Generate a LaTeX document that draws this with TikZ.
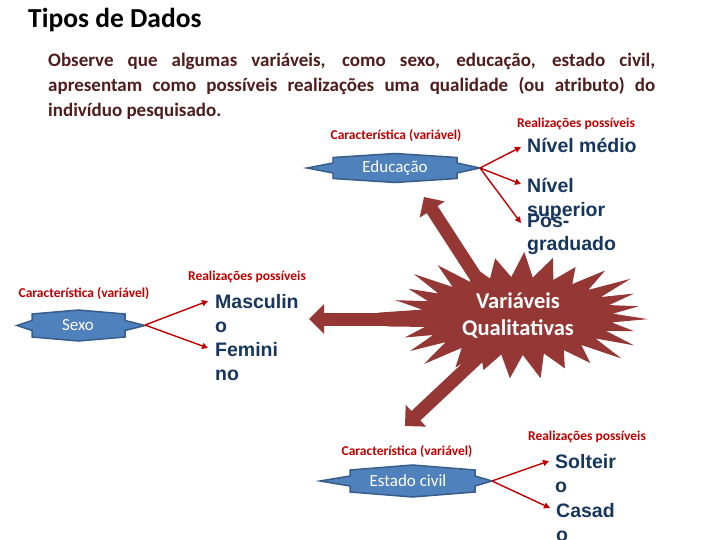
\documentclass[tikz,border=0pt]{standalone}
\usepackage{fontspec}
\setmainfont{Carlito}
\newfontfamily\arialf{Liberation Sans}
\usetikzlibrary{arrows.meta}
\definecolor{parcol}{HTML}{501C1C}
\definecolor{labred}{HTML}{C00000}
\definecolor{navy}{HTML}{17365D}
\definecolor{vqred}{HTML}{953735}
\definecolor{bfill}{HTML}{4F81BD}
\definecolor{bdraw}{HTML}{385D8A}
\tikzset{
  shapestyle/.style={fill=bfill, draw=bdraw, line width=1.5pt, line join=miter},
  vartext/.style={text=white, font=\fontsize{17}{20}\selectfont, inner sep=0pt},
  lab/.style={text=labred, font=\fontsize{13.5}{16}\selectfont\bfseries, inner sep=0pt, anchor=base},
  real/.style={text=navy, font=\arialf\bfseries\fontsize{19.5}{24}\selectfont, align=left, inner sep=0pt, anchor=base west},
  redarrow/.style={draw=labred, line width=1.4pt, -{Triangle[length=6pt,width=6pt]}},
  bigarrow/.style={draw=vqred, line width=13pt, -{Triangle[length=15pt,width=29pt]}},
}
\newcommand\varshape[7]{%
  \filldraw[shapestyle] (#1,#5) -- (#2,#5-5) -- (#2,#5-#6) -- ({(#2+#3)/2},#5-#6-#7) -- (#3,#5-#6) -- (#3,#5-5) -- (#4,#5)
    -- (#3,#5+5) -- (#3,#5+#6) -- ({(#2+#3)/2},#5+#6+#7) -- (#2,#5+#6) -- (#2,#5+5) -- cycle;}
\begin{document}
\begin{tikzpicture}[x=1pt,y=-1pt]
\useasboundingbox (0,0) rectangle (720,540);
\fill[white] (0,0) rectangle (720,540);

% title and paragraph
\node[anchor=base west, inner sep=0pt, font=\fontsize{27.5}{30}\selectfont\bfseries] (title) at (28,27.5) {Tipos de Dados};
\node[anchor=base west, inner sep=0pt, text width=607pt, align=justify, text=parcol,
      font=\fontsize{19}{25}\selectfont\bfseries] (intro) at (48,67)
  {Observe que algumas variáveis, como sexo, educação, estado civil,\linebreak apresentam como possíveis realizações uma qualidade (ou atributo) do\linebreak indivíduo pesquisado.};

% big arrows
\coordinate (a1s) at (483,288);
\coordinate (a1t) at (424,197);
\coordinate (a2s) at (430,319);
\coordinate (a2t) at (309,319);
\coordinate (a3s) at (488,348);
\coordinate (a3t) at (405,426);
\draw[bigarrow] (a1s) -- (a1t);
\draw[bigarrow] (a2s) -- (a2t);
\draw[bigarrow] (a3s) -- (a3t);

% starburst
\fill[vqred] plot[variable=\i, samples at={0,...,55}]
  ({517+(131*(1-mod(\i,2))+96*mod(\i,2))*(1+0.07*sin(\i*131)*(1-mod(\i,2)))*cos(\i*6.428571+3)},
   {316+(60*(1-mod(\i,2))+39*mod(\i,2))*(1+0.07*sin(\i*131)*(1-mod(\i,2)))*sin(\i*6.428571+3)}) -- cycle;
\node[text=white, font=\fontsize{22.5}{27}\selectfont\bfseries, align=center, inner sep=0pt, anchor=base] (vq) at (518,335)
  {Variáveis\\Qualitativas};

% Educação
\varshape{307}{333}{457}{480}{168}{10.5}{4}
\node[vartext] (educ) at (395,168) {Educação};
\coordinate (educR) at (480,168);
\node[lab] (educlab) at (396,140) {Característica (variável)};
\node[lab] (educreal) at (576,127.5) {Realizações possíveis};
\node[real] (nm) at (527,153) {Nível médio};
\node[real] (ns) at (527,216) {Nível\\superior};
\node[real] (pg) at (527,251) {Pós-\\graduado};
\coordinate (nmE) at (521,147);
\coordinate (nsE) at (521,184);
\coordinate (pgE) at (521,223);
\draw[redarrow] (educR) -- (nmE);
\draw[redarrow] (educR) -- (nsE);
\draw[redarrow] (educR) -- (pgE);

% Sexo
\varshape{17}{32}{125}{145}{325.5}{11.5}{4}
\node[vartext] (sexo) at (78,325.5) {Sexo};
\coordinate (sexoR) at (145,325);
\node[lab] (sexolab) at (84,297) {Característica (variável)};
\node[lab] (sexoreal) at (247,280) {Realizações possíveis};
\node[real] (masc) at (215,332) {Masculin\\o};
\node[real] (fem) at (215,380) {Femini\\no};
\coordinate (mascE) at (208,301);
\coordinate (femE) at (208,348);
\draw[redarrow] (sexoR) -- (mascE);
\draw[redarrow] (sexoR) -- (femE);

% Estado civil
\varshape{320}{350}{475}{492}{481}{11}{5}
\node[vartext] (civil) at (408,481) {Estado civil};
\coordinate (civilR) at (492,481);
\node[lab] (civillab) at (407,455) {Característica (variável)};
\node[lab] (civilreal) at (587,440) {Realizações possíveis};
\node[real] (solt) at (555,492) {Solteir\\o};
\node[real] (cas) at (556,541) {Casad\\o};
\coordinate (soltE) at (549,461);
\coordinate (casE) at (550,508);
\draw[redarrow] (civilR) -- (soltE);
\draw[redarrow] (civilR) -- (casE);
\end{tikzpicture}
\end{document}
